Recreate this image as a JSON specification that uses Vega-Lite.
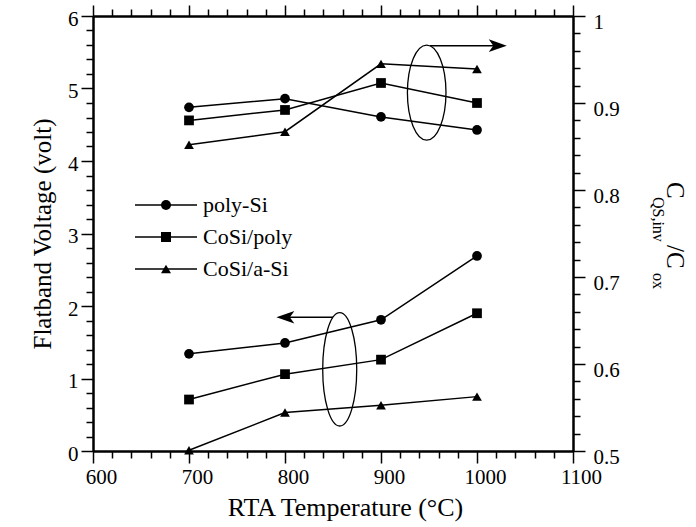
{
  "$schema": "https://vega.github.io/schema/vega-lite/v6.json",
  "width": 480,
  "height": 435,
  "autosize": {"type": "none"},
  "padding": {"left": 93, "top": 16, "right": 123, "bottom": 76},
  "background": "white",
  "config": {
    "font": "Liberation Serif",
    "view": {"stroke": null},
    "axis": {
      "domainColor": "black", "domainWidth": 2, "tickColor": "black", "tickWidth": 1.5,
      "labelColor": "black", "labelFont": "Liberation Serif", "labelFontSize": 21, "labelFlush": false,
      "grid": false, "titleColor": "black", "titleFont": "Liberation Serif",
      "titleFontWeight": "normal", "titleFontSize": 25
    },
    "legend": {"labelFont": "Liberation Serif"}
  },
  "datasets": {
    "flatband": [
      {"series": "poly-Si", "temp": 700, "v": 1.34},
      {"series": "poly-Si", "temp": 800, "v": 1.49},
      {"series": "poly-Si", "temp": 900, "v": 1.81},
      {"series": "poly-Si", "temp": 1000, "v": 2.69},
      {"series": "CoSi/poly", "temp": 700, "v": 0.71},
      {"series": "CoSi/poly", "temp": 800, "v": 1.06},
      {"series": "CoSi/poly", "temp": 900, "v": 1.26},
      {"series": "CoSi/poly", "temp": 1000, "v": 1.9},
      {"series": "CoSi/a-Si", "temp": 700, "v": 0.01},
      {"series": "CoSi/a-Si", "temp": 800, "v": 0.53},
      {"series": "CoSi/a-Si", "temp": 900, "v": 0.63},
      {"series": "CoSi/a-Si", "temp": 1000, "v": 0.75}
    ],
    "ratio": [
      {"series": "poly-Si", "temp": 700, "r": 0.895},
      {"series": "poly-Si", "temp": 800, "r": 0.905},
      {"series": "poly-Si", "temp": 900, "r": 0.884},
      {"series": "poly-Si", "temp": 1000, "r": 0.869},
      {"series": "CoSi/poly", "temp": 700, "r": 0.88},
      {"series": "CoSi/poly", "temp": 800, "r": 0.892},
      {"series": "CoSi/poly", "temp": 900, "r": 0.923},
      {"series": "CoSi/poly", "temp": 1000, "r": 0.9},
      {"series": "CoSi/a-Si", "temp": 700, "r": 0.852},
      {"series": "CoSi/a-Si", "temp": 800, "r": 0.867},
      {"series": "CoSi/a-Si", "temp": 900, "r": 0.945},
      {"series": "CoSi/a-Si", "temp": 1000, "r": 0.939}
    ]
  },
  "layer": [
    {
      "data": {"name": "flatband"},
      "mark": {"type": "line", "strokeWidth": 1.5},
      "encoding": {
        "x": {"field": "temp", "type": "quantitative",
          "scale": {"domain": [600, 1100], "nice": false, "zero": false},
          "axis": {"orient": "bottom", "values": [600, 700, 800, 900, 1000, 1100], "format": "d", "tickSize": 12, "labelPadding": 20, "labelBaseline": "alphabetic", "labelOffset": 8, "title": "RTA Temperature (°C)", "titleFontSize": 26, "titleX": 252, "titleY": 64, "titleBaseline": "alphabetic"}},
        "y": {"field": "v", "type": "quantitative",
          "scale": {"domain": [0, 6], "nice": false, "zero": false},
          "axis": {"orient": "left", "values": [0, 1, 2, 3, 4, 5, 6], "tickSize": 12, "labelPadding": 3, "labelOffset": 3, "title": "Flatband Voltage (volt)", "titlePadding": 12}},
        "color": {"field": "series", "type": "nominal",
          "scale": {"domain": ["poly-Si", "CoSi/poly", "CoSi/a-Si"], "range": ["black", "black", "black"]},
          "legend": {
            "orient": "none", "legendX": 62, "legendY": 178, "title": null, "padding": 0,
            "labelFont": "Liberation Serif", "labelFontSize": 22, "labelColor": "black", "labelOpacity": 0,
            "symbolSize": 100, "labelOffset": 26, "rowPadding": 10, "symbolOpacity": 1,
            "symbolType": "M -6.2 0 L 6.2 0", "symbolStrokeColor": "black", "symbolStrokeWidth": 1.5
          }},
        "order": {"field": "temp", "type": "quantitative"}
      }
    },
    {
      "data": {"name": "flatband"},
      "mark": {"type": "point", "filled": true, "color": "black", "opacity": 1, "size": 95},
      "encoding": {
        "x": {"field": "temp", "type": "quantitative",
          "scale": {"domain": [600, 1100], "nice": false, "zero": false},
          "axis": {"orient": "bottom", "values": [620, 640, 660, 680, 720, 740, 760, 780, 820, 840, 860, 880, 920, 940, 960, 980, 1020, 1040, 1060, 1080], "tickSize": 7, "labels": false, "title": null}},
        "y": {"field": "v", "type": "quantitative",
          "scale": {"domain": [0, 6], "nice": false, "zero": false},
          "axis": {"orient": "left", "values": [0.2, 0.4, 0.6, 0.8, 1.2, 1.4, 1.6, 1.8, 2.2, 2.4, 2.6, 2.8, 3.2, 3.4, 3.6, 3.8, 4.2, 4.4, 4.6, 4.8, 5.2, 5.4, 5.6, 5.8], "tickSize": 7, "labels": false, "title": null}},
        "shape": {"field": "series", "type": "nominal",
          "scale": {"domain": ["poly-Si", "CoSi/poly", "CoSi/a-Si"], "range": ["circle", "square", "triangle-up"]},
          "legend": {
            "orient": "none", "legendX": 62, "legendY": 178, "title": null, "padding": 0,
            "labelFont": "Liberation Serif", "labelFontSize": 22, "labelColor": "black",
            "symbolSize": 100, "labelOffset": 26, "rowPadding": 10, "symbolOpacity": 1,
            "symbolFillColor": "black"
          }}
      }
    },
    {
      "data": {"name": "ratio"},
      "mark": {"type": "line", "color": "black", "strokeWidth": 1.5},
      "encoding": {
        "x": {"field": "temp", "type": "quantitative",
          "scale": {"domain": [600, 1100], "nice": false, "zero": false},
          "axis": {"orient": "top", "values": [600, 700, 800, 900, 1000, 1100], "tickSize": 11, "labels": false, "title": null}},
        "y": {"field": "r", "type": "quantitative",
          "scale": {"domain": [0.5, 1], "nice": false, "zero": false},
          "axis": {"orient": "right", "values": [0.5, 0.6, 0.7, 0.8, 0.9, 1], "format": "~g", "tickSize": 12, "labelPadding": 8, "labelOffset": 6, "title": null}},
        "detail": {"field": "series"},
        "order": {"field": "temp", "type": "quantitative"}
      }
    },
    {
      "data": {"name": "ratio"},
      "mark": {"type": "point", "filled": true, "color": "black", "opacity": 1, "size": 95},
      "encoding": {
        "x": {"field": "temp", "type": "quantitative",
          "scale": {"domain": [600, 1100], "nice": false, "zero": false},
          "axis": {"orient": "top", "values": [620, 640, 660, 680, 720, 740, 760, 780, 820, 840, 860, 880, 920, 940, 960, 980, 1020, 1040, 1060, 1080], "tickSize": 7, "labels": false, "title": null}},
        "y": {"field": "r", "type": "quantitative",
          "scale": {"domain": [0.5, 1], "nice": false, "zero": false},
          "axis": {"orient": "right", "values": [0.52, 0.54, 0.56, 0.58, 0.62, 0.64, 0.66, 0.68, 0.72, 0.74, 0.76, 0.78, 0.82, 0.84, 0.86, 0.88, 0.92, 0.94, 0.96, 0.98], "tickSize": 7, "labels": false, "title": null}},
        "shape": {"field": "series", "type": "nominal",
          "scale": {"domain": ["poly-Si", "CoSi/poly", "CoSi/a-Si"], "range": ["circle", "square", "triangle-up"]},
          "legend": null}
      }
    },
    {
      "data": {"values": [{"cx": 857, "cy": 1.127}]},
      "mark": {"type": "point", "filled": false, "stroke": "black", "strokeWidth": 1.3, "opacity": 1, "size": 12860,
        "shape": "M -0.3 0 A 0.3 1 0 1 0 0.3 0 A 0.3 1 0 1 0 -0.3 0 Z"},
      "encoding": {
        "x": {"field": "cx", "type": "quantitative", "scale": {"domain": [600, 1100], "nice": false, "zero": false}, "axis": null},
        "y": {"field": "cy", "type": "quantitative", "scale": {"domain": [0, 6], "nice": false, "zero": false}, "axis": null}
      }
    },
    {
      "data": {"values": [{"cx": 947.6, "cy": 0.912}]},
      "mark": {"type": "point", "filled": false, "stroke": "black", "strokeWidth": 1.3, "opacity": 1, "size": 9025,
        "shape": "M -0.406 0 A 0.406 1 0 1 0 0.406 0 A 0.406 1 0 1 0 -0.406 0 Z"},
      "encoding": {
        "x": {"field": "cx", "type": "quantitative", "scale": {"domain": [600, 1100], "nice": false, "zero": false}, "axis": null},
        "y": {"field": "cy", "type": "quantitative", "scale": {"domain": [0.5, 1], "nice": false, "zero": false}, "axis": null}
      }
    },
    {
      "data": {"values": [{"x1": 951, "x2": 1024, "y": 0.9659}]},
      "mark": {"type": "rule", "color": "black", "strokeWidth": 1.5},
      "encoding": {
        "x": {"field": "x1", "type": "quantitative", "scale": {"domain": [600, 1100], "nice": false, "zero": false}, "axis": null},
        "x2": {"field": "x2"},
        "y": {"field": "y", "type": "quantitative", "scale": {"domain": [0.5, 1], "nice": false, "zero": false}, "axis": null}
      }
    },
    {
      "data": {"values": [{"x": 1031, "y": 0.9659}]},
      "mark": {"type": "point", "filled": true, "color": "black", "opacity": 1, "size": 324,
        "shape": "M 0 0 L -2 -0.7 L -1.5 0 L -2 0.7 Z"},
      "encoding": {
        "x": {"field": "x", "type": "quantitative", "scale": {"domain": [600, 1100], "nice": false, "zero": false}, "axis": null},
        "y": {"field": "y", "type": "quantitative", "scale": {"domain": [0.5, 1], "nice": false, "zero": false}, "axis": null}
      }
    },
    {
      "data": {"values": [{"x1": 850, "x2": 798, "y": 1.844}]},
      "mark": {"type": "rule", "color": "black", "strokeWidth": 1.5},
      "encoding": {
        "x": {"field": "x1", "type": "quantitative", "scale": {"domain": [600, 1100], "nice": false, "zero": false}, "axis": null},
        "x2": {"field": "x2"},
        "y": {"field": "y", "type": "quantitative", "scale": {"domain": [0, 6], "nice": false, "zero": false}, "axis": null}
      }
    },
    {
      "data": {"values": [{"x": 791, "y": 1.844}]},
      "mark": {"type": "point", "filled": true, "color": "black", "opacity": 1, "size": 324,
        "shape": "M 0 0 L 2 -0.7 L 1.5 0 L 2 0.7 Z"},
      "encoding": {
        "x": {"field": "x", "type": "quantitative", "scale": {"domain": [600, 1100], "nice": false, "zero": false}, "axis": null},
        "y": {"field": "y", "type": "quantitative", "scale": {"domain": [0, 6], "nice": false, "zero": false}, "axis": null}
      }
    },
    {
      "data": {"values": [{"t": "C", "x": 1198, "y": 0.8092}, {"t": "/C", "x": 1198, "y": 0.7368}]},
      "mark": {"type": "text", "angle": 90, "align": "left", "baseline": "alphabetic", "font": "Liberation Serif", "fontSize": 25, "color": "black"},
      "encoding": {
        "x": {"field": "x", "type": "quantitative", "scale": {"domain": [600, 1100], "nice": false, "zero": false}, "axis": null},
        "y": {"field": "y", "type": "quantitative", "scale": {"domain": [0.5, 1], "nice": false, "zero": false}, "axis": null},
        "text": {"field": "t"}
      }
    },
    {
      "data": {"values": [{"t": "QS,inv", "x": 1183, "y": 0.792}, {"t": "ox", "x": 1183, "y": 0.7046}]},
      "mark": {"type": "text", "angle": 90, "align": "left", "baseline": "alphabetic", "font": "Liberation Serif", "fontSize": 16, "color": "black"},
      "encoding": {
        "x": {"field": "x", "type": "quantitative", "scale": {"domain": [600, 1100], "nice": false, "zero": false}, "axis": null},
        "y": {"field": "y", "type": "quantitative", "scale": {"domain": [0.5, 1], "nice": false, "zero": false}, "axis": null},
        "text": {"field": "t"}
      }
    }
  ],
  "resolve": {
    "scale": {"x": "independent", "y": "independent", "shape": "independent", "color": "independent"},
    "axis": {"x": "independent", "y": "independent"},
    "legend": {"shape": "independent", "color": "independent"}
  }
}
